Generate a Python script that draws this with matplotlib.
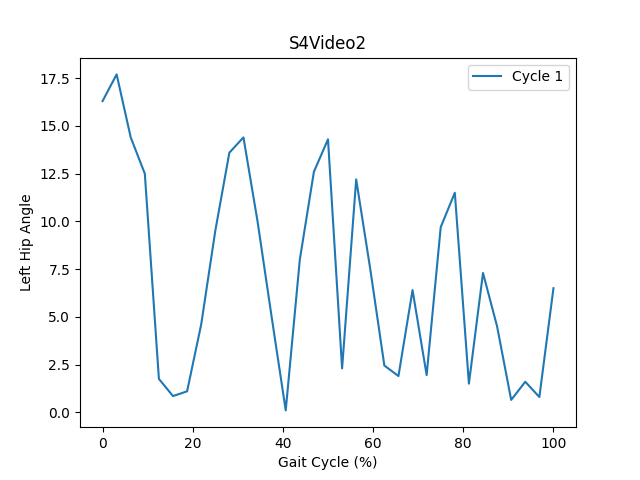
import numpy as np
import matplotlib
matplotlib.use("Agg")
import matplotlib.pyplot as plt

gait_cycle = np.linspace(0, 100, 33)
left_hip = [16.3, 17.7, 14.4, 12.5, 1.75, 0.85, 1.1, 4.6, 9.5, 13.6, 14.4, 10.0,
            5.0, 0.1, 8.0, 12.6, 14.3, 2.3, 12.2, 7.5, 2.45, 1.9, 6.4, 1.95,
            9.7, 11.5, 1.5, 7.3, 4.5, 0.65, 1.6, 0.8, 6.5]

fig, ax = plt.subplots(figsize=(6.4, 4.8), dpi=100)
ax.plot(gait_cycle, left_hip, label="Cycle 1")
ax.set(xlabel="Gait Cycle (%)", ylabel="Left Hip Angle", title="S4Video2")
ax.legend()
fig.savefig("out.png")
